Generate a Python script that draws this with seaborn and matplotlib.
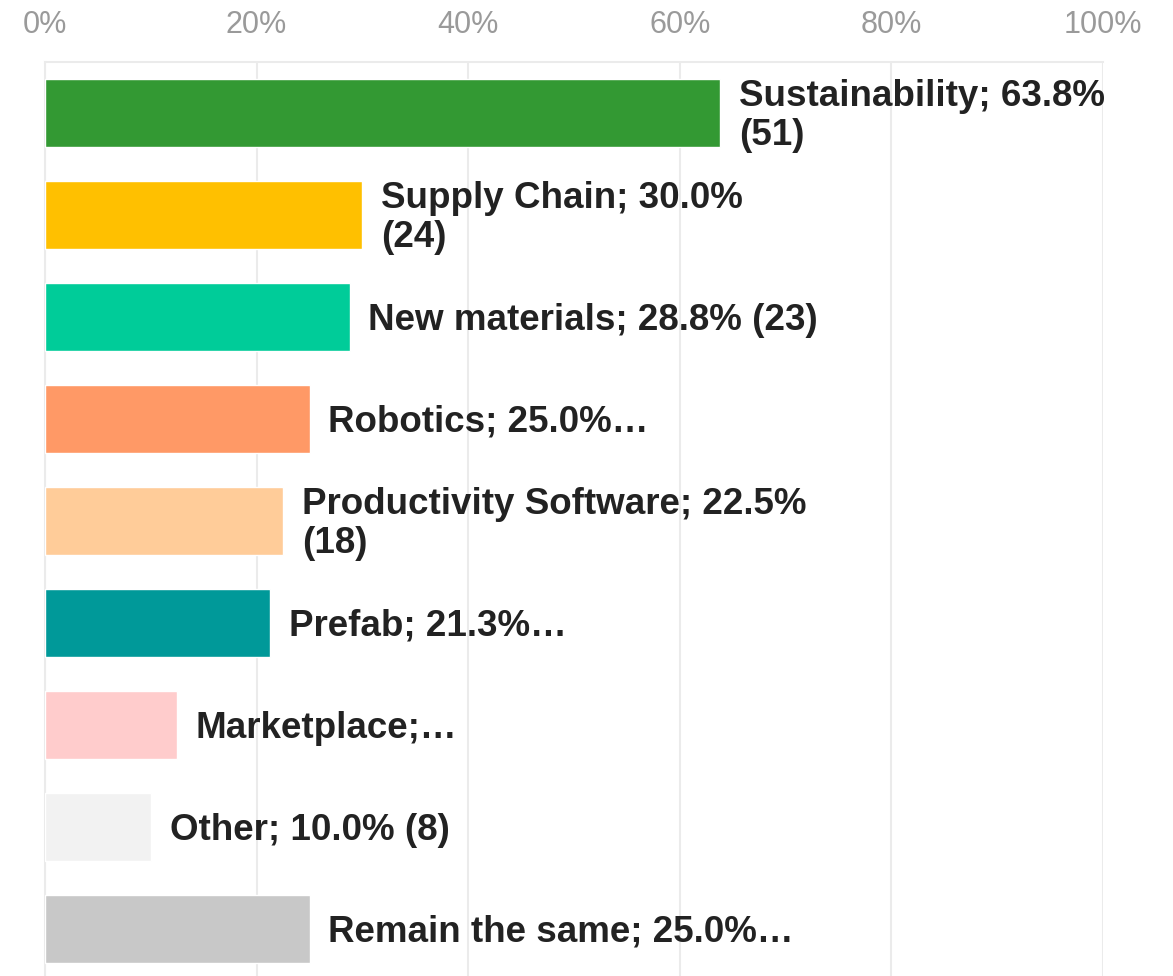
import matplotlib
matplotlib.use("Agg")
import matplotlib.pyplot as plt
import seaborn as sns
import pandas as pd

categories = ["Sustainability", "Supply Chain", "New materials", "Robotics",
              "Productivity Software", "Prefab", "Marketplace", "Other",
              "Remain the same"]
percents = [63.8, 30.0, 28.8, 25.0, 22.5, 21.3, 12.5, 10.0, 25.0]
labels = ["Sustainability; 63.8%\n(51)", "Supply Chain; 30.0%\n(24)",
          "New materials; 28.8% (23)", "Robotics; 25.0%…",
          "Productivity Software; 22.5%\n(18)", "Prefab; 21.3%…",
          "Marketplace;…", "Other; 10.0% (8)", "Remain the same; 25.0%…"]
colors = ["#339933", "#FFC000", "#00CC99", "#FF9966", "#FFCC99",
          "#009999", "#FFCCCC", "#F2F2F2", "#C8C8C8"]
tick_values = [0, 20, 40, 60, 80, 100]
tick_labels = ["0%", "20%", "40%", "60%", "80%", "100%"]

sns.set_style("white")
plt.rcParams["font.family"] = ["Liberation Sans", "DejaVu Sans"]

df = pd.DataFrame({"category": categories, "percent": percents})

fig = plt.figure(figsize=(11.73, 9.76), dpi=100)
ax = fig.add_axes([45 / 1173, 1 - 980 / 976, (1103 - 45) / 1173, (980 - 62) / 976])

sns.barplot(data=df, x="percent", y="category", hue="category",
            palette=colors, legend=False, orient="h", width=0.667,
            ax=ax, zorder=3, saturation=1)

for i, (val, lab) in enumerate(zip(percents, labels)):
    ax.annotate(lab, xy=(val, i), xytext=(13.5, -2.5), textcoords="offset points",
                ha="left", va="center", fontsize=26.5, fontweight="bold",
                color="#222222", linespacing=1.15, zorder=4)

ax.set_xlim(0, 100)
ax.set_ylim(len(categories) - 0.5, -0.5)
ax.set_xticks(tick_values)
ax.set_xticklabels(tick_labels)
ax.xaxis.tick_top()
ax.tick_params(axis="x", length=0, pad=16, labelsize=22, labelcolor="#9a9a9a")
ax.set_yticks([])
ax.set_xlabel("")
ax.set_ylabel("")

ax.grid(axis="x", color="#ebebeb", linewidth=1.5, zorder=0)
ax.set_axisbelow(True)
for side in ["right", "bottom"]:
    ax.spines[side].set_visible(False)
for side in ["top", "left"]:
    ax.spines[side].set_color("#ebebeb")
    ax.spines[side].set_linewidth(1.5)

fig.savefig("out.png", dpi=100)
